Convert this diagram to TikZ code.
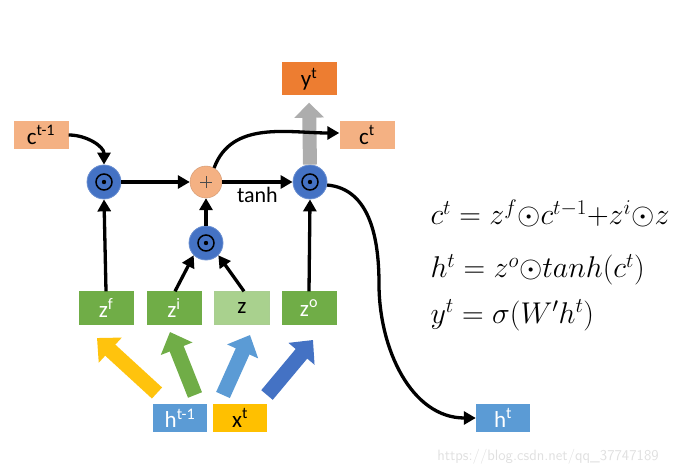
\documentclass[tikz,border=0pt]{standalone}
\usepackage{fix-cm}
\usepackage{amsmath}
\usepackage{amssymb}
\usepackage{fontspec}
\setmainfont{Carlito}
\usetikzlibrary{arrows.meta,calc}

\definecolor{salmon}{HTML}{F4B183}
\definecolor{orangey}{HTML}{ED7D31}
\definecolor{gatefill}{HTML}{70AD47}
\definecolor{gatelight}{HTML}{A9D18E}
\definecolor{bluebox}{HTML}{5B9BD5}
\definecolor{darkblue}{HTML}{4472C4}
\definecolor{goldy}{HTML}{FFC000}

\tikzset{
  box/.style={minimum width=55pt,minimum height=30pt,inner sep=0pt,font=\fontsize{23}{25}\selectfont},
  mult/.style={circle,fill=darkblue,draw=darkblue!80!white,line width=0.8pt,minimum size=34pt,inner sep=0pt,
    path picture={\draw[line width=1.5pt,draw=black] (path picture bounding box.center) circle (8pt);
                  \fill[black] (path picture bounding box.center) circle (2.2pt);}},
  addnode/.style={circle,fill=salmon,draw=salmon!85!black,line width=0.4pt,minimum size=32pt,inner sep=0pt,
    path picture={\draw[line width=0.6pt,draw=black!70] ($(path picture bounding box.center)+(-6pt,0)$) -- ++(12pt,0)
                  ($(path picture bounding box.center)+(0,-6pt)$) -- ++(0,12pt);}},
  flow/.style={line width=3.3pt,-{Triangle[length=12pt,width=13pt]}},
  fat/.style={line width=15pt,-{Triangle[length=18pt,width=33pt]}},
  eqn/.style={anchor=base west,font=\fontsize{30}{32}\selectfont},
}

\begin{document}
\begin{tikzpicture}[x=1pt,y=1pt]
  \useasboundingbox (0,0) rectangle (679,474);

  % cell state and output boxes
  \node[box,fill=salmon,minimum height=28pt] (cprev) at (41,339) {c\textsuperscript{t-1}};
  \node[box,fill=salmon,minimum height=28pt] (ct) at (367,339) {c\textsuperscript{t}};
  \node[box,fill=orangey,minimum height=33pt] (yt) at (309,395) {y\textsuperscript{t}};

  % gates
  \node[box,fill=gatefill,text=white,minimum height=33pt] (zf) at (106,166) {z\textsuperscript{f}};
  \node[box,fill=gatefill,text=white,minimum height=33pt] (zi) at (174,166) {z\textsuperscript{i}};
  \node[box,fill=gatelight,draw=gatefill!60,minimum height=33pt] (zz) at (242,166) {z};
  \node[box,fill=gatefill,text=white,minimum height=33pt] (zo) at (309,166) {z\textsuperscript{o}};

  % inputs
  \node[box,fill=bluebox,text=white,minimum height=28pt,minimum width=54pt] (hprev) at (180,56) {h\textsuperscript{t-1}};
  \node[box,fill=goldy,minimum height=28pt,minimum width=54pt] (xt) at (240,56) {x\textsuperscript{t}};
  \node[box,fill=bluebox,text=white,minimum height=28pt,minimum width=54pt] (ht) at (503,56) {h\textsuperscript{t}};

  % operations
  \node[mult] (m1) at (104,292) {};
  \node[addnode] (add) at (206,292) {};
  \node[mult] (m3) at (310,292) {};
  \node[mult] (m2) at (206,231) {};

  % fat input arrows
  \coordinate (ya) at (157,81);  \coordinate (yb) at (97,136);
  \coordinate (ga) at (195,79);  \coordinate (gb) at (170,142);
  \coordinate (la) at (223,79);  \coordinate (lb) at (250,139);
  \coordinate (da) at (267,79);  \coordinate (db) at (313,134);
  \draw[fat,goldy!95!white] (ya) -- (yb);
  \draw[fat,gatefill] (ga) -- (gb);
  \draw[fat,bluebox] (la) -- (lb);
  \draw[fat,darkblue] (da) -- (db);

  % output arrow
  \draw[line width=14pt,black!32,-{Triangle[length=15pt,width=29pt]}] (m3.north) -- ([yshift=-7pt]yt.south);

  % connections
  \draw[flow] (cprev.east) to[out=0,in=90] (m1.north);
  \draw[flow] (zf.north) -- (m1.south);
  \draw[flow] (zo.north) -- (m3.south);
  \draw[flow] ([xshift=1pt]zi.north) -- (m2.south west);
  \draw[flow] ([xshift=2pt]zz.north) -- (m2.south east);
  \draw[flow] (m2.north) -- (add.south);
  \draw[flow] (m1.east) -- (add.west);
  \draw[flow] (add.east) -- node[below=0pt,font=\fontsize{22}{24}\selectfont] (tanh) {tanh} (m3.west);
  \draw[flow] (add.60) to[out=70,in=180] ([yshift=2pt]ct.west);
  \coordinate (bend) at (379,190);
  \draw[flow] (m3.-10) to[out=-5,in=90] (bend) to[out=-90,in=180] (ht.west);

  % equations
  \node[eqn] (eqc) at (427,249) {$c^t = z^f{\odot}c^{t-1}{+}z^i{\odot}z$};
  \node[eqn] (eqh) at (427,196) {$h^t = z^o{\odot}tanh(c^t)$};
  \node[eqn] (eqy) at (427,151) {$y^t = \sigma(W'h^t)$};

  \node[font=\fontsize{15}{17}\selectfont\sffamily,text=black!12] (mark) at (548,17) {https://blog.csdn.net/qq\_37747189};
\end{tikzpicture}
\end{document}
